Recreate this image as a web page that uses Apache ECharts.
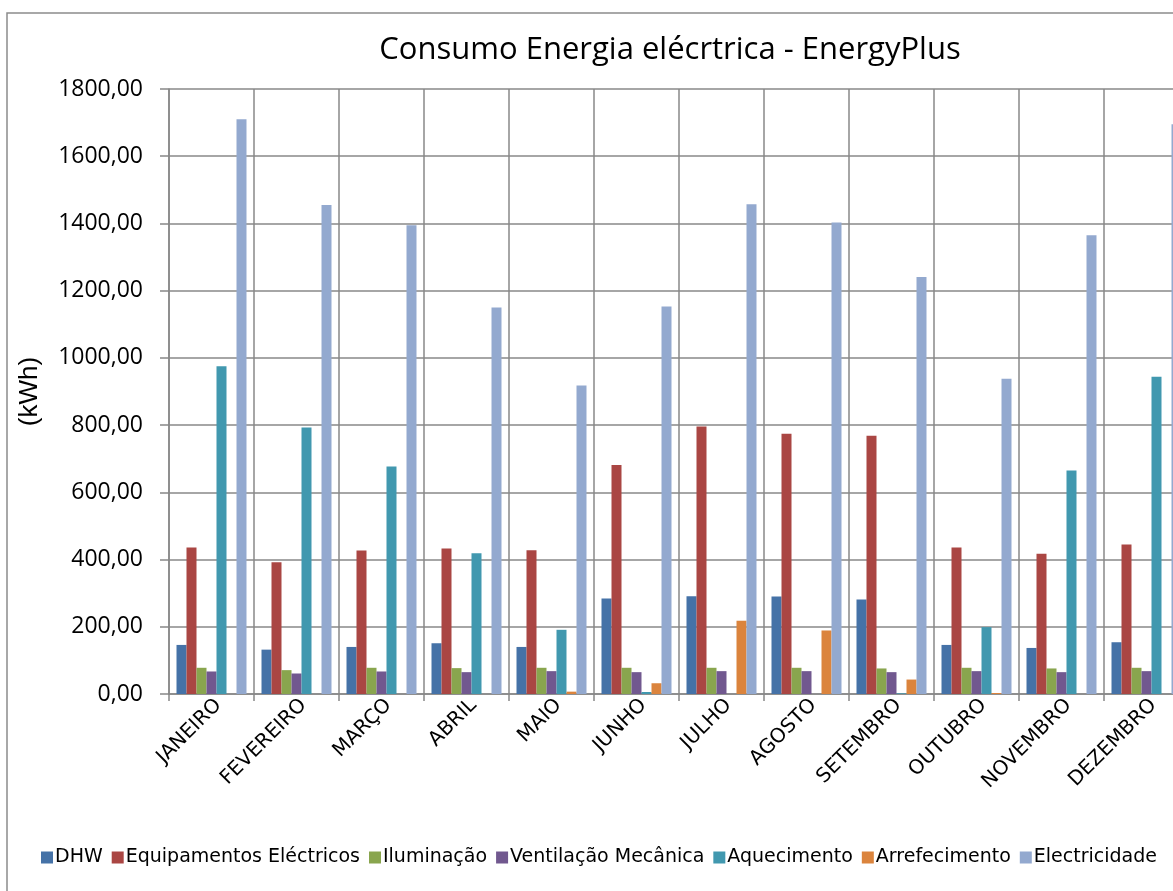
<!DOCTYPE html>
<html>
<head>
<meta charset="utf-8">
<script src="https://cdn.jsdelivr.net/npm/echarts@6/dist/echarts.min.js"></script>
<style>
  html, body { margin: 0; padding: 0; background: #fff; }
  #chart { width: 1173px; height: 891px; }
</style>
</head>
<body>
<div id="chart"></div>
<script>
const months = ["JANEIRO", "FEVEREIRO", "MARÇO", "ABRIL", "MAIO", "JUNHO",
  "JULHO", "AGOSTO", "SETEMBRO", "OUTUBRO", "NOVEMBRO", "DEZEMBRO"];

const dhw = [146, 132, 140, 151, 140, 284, 291, 290, 281, 146, 137, 154];
const equipamentos = [436, 392, 427, 433, 428, 681, 796, 774, 768, 436, 417, 445];
const iluminacao = [78, 71, 78, 77, 78, 78, 78, 78, 76, 78, 76, 78];
const ventilacao = [67, 61, 67, 65, 68, 65, 68, 68, 65, 68, 65, 68];
const aquecimento = [975, 793, 677, 419, 191, 6, 0, 0, 2, 199, 665, 944];
const arrefecimento = [0, 0, 0, 0, 7, 32, 218, 189, 43, 3, 0, 0];
const electricidade = [1710, 1455, 1395, 1150, 918, 1153, 1457, 1403, 1241, 938, 1365, 1695];

const seriesNames = ["DHW", "Equipamentos Eléctricos", "Iluminação", "Ventilação Mecânica",
  "Aquecimento", "Arrefecimento", "Electricidade"];
const seriesValues = [dhw, equipamentos, iluminacao, ventilacao, aquecimento, arrefecimento, electricidade];
const colors = ["#4572A7", "#AA4643", "#89A54E", "#71588F", "#4198AF", "#DB843D", "#93A9CF"];

const gridColor = "#888888";

const myChart = echarts.init(document.getElementById("chart"));

function buildSeries() {
  let tempList = [];
  seriesValues.forEach((item, index) => {
    tempList.push({
      name: seriesNames[index],
      type: "bar",
      color: colors[index],
      barWidth: 10,
      barGap: "0%",
      data: item
    });
  });
  return tempList;
}

const option = {
  animation: false,
  color: colors,
  title: {
    text: "Consumo Energia elécrtrica - EnergyPlus",
    left: 665,
    textAlign: "center",
    top: 30,
    textStyle: {
      fontFamily: "Open Sans",
      fontSize: 31,
      fontWeight: "normal",
      color: "#000"
    }
  },
  graphic: [
    {
      type: "rect",
      shape: { x: 7, y: 13, width: 1300, height: 1000 },
      style: { fill: "none", stroke: "#8c8c8c", lineWidth: 1.5 },
      z: -1
    }
  ],
  legend: {
    left: 36,
    top: 843,
    itemWidth: 12,
    itemHeight: 12,
    itemGap: 9,
    icon: "rect",
    textStyle: {
      fontFamily: "DejaVu Sans",
      fontSize: 19,
      color: "#000",
      padding: [0, 0, 0, -3]
    },
    data: seriesNames
  },
  grid: {
    left: 169,
    width: 1020,
    top: 89,
    bottom: 197,
    containLabel: false,
    outerBoundsMode: "none"
  },
  xAxis: {
    type: "category",
    data: months,
    axisLine: { show: true, lineStyle: { color: gridColor, width: 1.5 } },
    axisTick: { show: true, length: 7, lineStyle: { color: gridColor, width: 1.5 } },
    splitLine: { show: true, lineStyle: { color: gridColor, width: 1.5 } },
    axisLabel: {
      rotate: 45,
      interval: 0,
      margin: 1,
      verticalAlign: "top",
      fontFamily: "DejaVu Sans",
      fontSize: 20,
      color: "#000"
    }
  },
  yAxis: {
    type: "value",
    min: 0,
    max: 1800,
    interval: 200,
    name: "(kWh)",
    nameLocation: "middle",
    nameGap: 126,
    nameTextStyle: {
      fontFamily: "Liberation Sans",
      fontSize: 26,
      color: "#000"
    },
    axisLine: { show: true, lineStyle: { color: gridColor, width: 1.5 } },
    axisTick: { show: true, length: 9, lineStyle: { color: gridColor, width: 1.5 } },
    splitLine: { show: true, lineStyle: { color: gridColor, width: 1.5 } },
    axisLabel: {
      margin: 26,
      fontFamily: "Open Sans",
      fontSize: 23,
      color: "#000",
      formatter: function(v) {
        return v.toFixed(2).replace(".", ",");
      }
    }
  },
  series: buildSeries()
};

myChart.setOption(option);
</script>
</body>
</html>
